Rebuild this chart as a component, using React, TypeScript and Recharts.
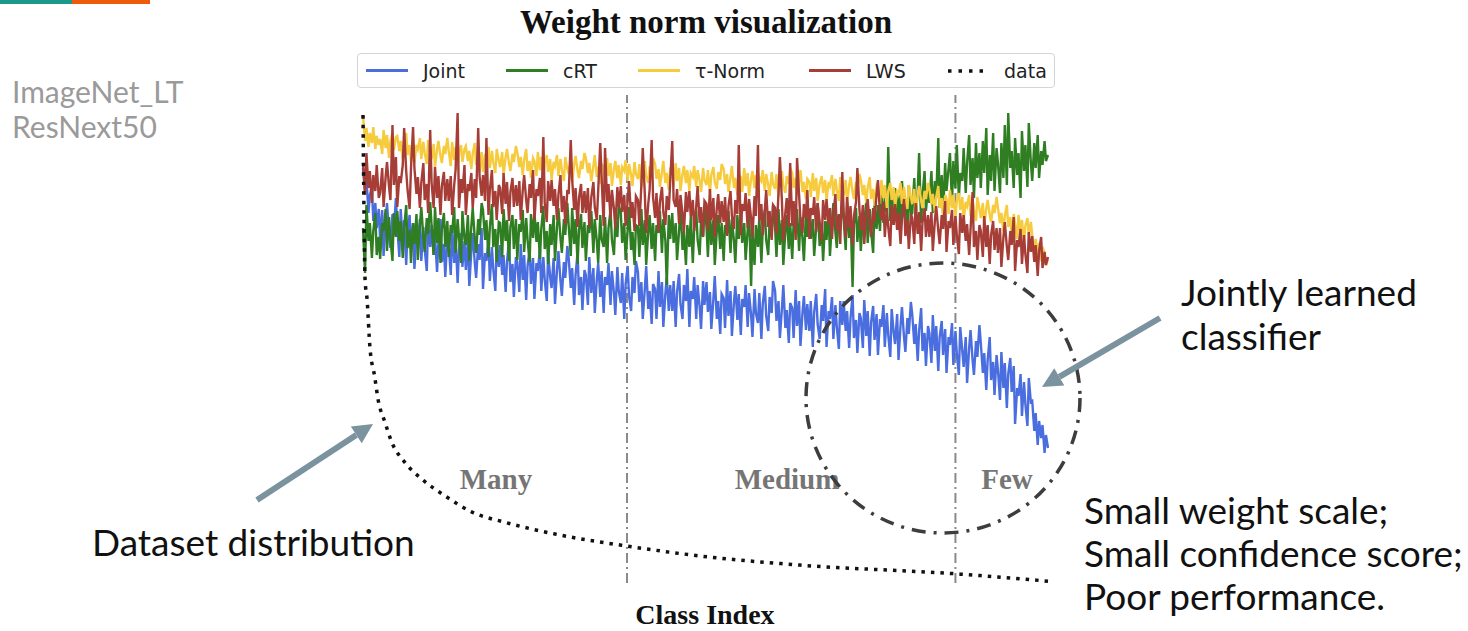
import React from 'react';
import { ComposedChart, Line, XAxis, YAxis, ReferenceLine } from 'recharts';

// ImageNet_LT: 1000 classes sorted by training count, weight norms sampled every ~2.5 classes
const jointNorm = [
  4.15, 3.92, 4.05, 3.70, 3.88, 3.96, 3.62, 3.80, 3.55, 3.74,
  3.43, 3.73, 3.27, 3.62, 3.80, 3.50, 3.35, 3.69, 3.53, 3.85,
  3.56, 3.26, 3.74, 3.38, 3.63, 3.18, 3.52, 3.68, 3.34, 3.60,
  3.14, 3.50, 3.42, 3.64, 3.22, 3.56, 3.34, 3.12, 3.60, 3.36,
  3.58, 3.28, 3.48, 3.11, 3.41, 3.64, 3.21, 3.39, 3.06, 3.46,
  3.38, 3.08, 3.56, 3.20, 3.45, 3.00, 3.34, 3.50, 3.16, 3.42,
  3.13, 3.43, 2.97, 3.32, 3.50, 3.20, 3.05, 3.39, 3.23, 3.55,
  2.94, 3.30, 3.22, 3.44, 3.02, 3.36, 3.14, 2.92, 3.40, 3.16,
  3.38, 3.08, 3.28, 2.91, 3.21, 3.44, 3.01, 3.19, 2.86, 3.26,
  3.21, 2.91, 3.39, 3.03, 3.28, 2.83, 3.17, 3.33, 2.99, 3.25,
  2.84, 3.20, 3.12, 3.34, 2.92, 3.26, 3.04, 2.82, 3.30, 3.06,
  2.95, 3.25, 2.79, 3.14, 3.32, 3.02, 2.87, 3.21, 3.05, 3.37,
  3.25, 2.95, 3.15, 2.78, 3.08, 3.31, 2.88, 3.06, 2.73, 3.13,
  3.08, 2.78, 3.26, 2.90, 3.15, 2.70, 3.04, 3.20, 2.86, 3.12,
  2.70, 3.06, 2.98, 3.20, 2.78, 3.12, 2.90, 2.68, 3.16, 2.92,
  2.80, 3.10, 2.64, 2.99, 3.17, 2.87, 2.72, 3.06, 2.90, 3.22,
  3.11, 2.81, 3.01, 2.64, 2.94, 3.17, 2.74, 2.92, 2.59, 2.99,
  2.94, 2.64, 3.12, 2.76, 3.01, 2.56, 2.90, 3.06, 2.72, 2.98,
  2.72, 3.02, 2.56, 2.91, 3.09, 2.79, 2.64, 2.98, 2.82, 3.14,
  2.56, 2.92, 2.84, 3.06, 2.64, 2.98, 2.76, 2.54, 3.02, 2.78,
  3.01, 2.71, 2.91, 2.54, 2.84, 3.07, 2.64, 2.82, 2.49, 2.89,
  2.85, 2.55, 3.03, 2.67, 2.92, 2.47, 2.81, 2.97, 2.63, 2.89,
  2.48, 2.84, 2.76, 2.98, 2.56, 2.90, 2.68, 2.46, 2.94, 2.70,
  2.60, 2.90, 2.44, 2.79, 2.97, 2.67, 2.52, 2.86, 2.70, 3.02,
  2.92, 2.62, 2.82, 2.45, 2.75, 2.98, 2.55, 2.73, 2.40, 2.80,
  2.75, 2.45, 2.93, 2.57, 2.82, 2.37, 2.71, 2.87, 2.53, 2.79,
  2.52, 2.82, 2.36, 2.71, 2.89, 2.59, 2.44, 2.78, 2.62, 2.94,
  2.36, 2.72, 2.64, 2.86, 2.44, 2.78, 2.56, 2.34, 2.82, 2.58,
  2.82, 2.52, 2.72, 2.35, 2.65, 2.88, 2.45, 2.63, 2.30, 2.70,
  2.65, 2.35, 2.83, 2.47, 2.72, 2.27, 2.61, 2.77, 2.43, 2.69,
  2.28, 2.64, 2.56, 2.78, 2.36, 2.70, 2.48, 2.26, 2.74, 2.50,
  2.39, 2.69, 2.23, 2.58, 2.76, 2.46, 2.31, 2.65, 2.49, 2.81,
  2.69, 2.39, 2.59, 2.22, 2.52, 2.75, 2.32, 2.50, 2.17, 2.57,
  2.50, 2.20, 2.68, 2.32, 2.57, 2.12, 2.46, 2.62, 2.28, 2.54,
  2.10, 2.46, 2.38, 2.60, 2.18, 2.52, 2.30, 2.08, 2.56, 2.32,
  2.16, 2.46, 2.00, 2.35, 2.53, 2.23, 2.08, 2.42, 2.26, 2.58,
  2.40, 2.10, 2.30, 1.93, 2.23, 2.46, 2.03, 2.21, 1.88, 2.28,
  2.13, 1.83, 2.31, 1.95, 2.20, 1.75, 2.09, 2.25, 1.91, 2.17,
  1.59, 1.95, 1.87, 2.09, 1.67, 2.01, 1.79, 1.57, 2.05, 1.81,
  1.82, 1.52, 1.70, 1.38, 1.62, 1.45, 1.58, 1.30, 1.48, 1.35,
];

const crtNorm = [
  3.55, 3.10, 3.78, 3.42, 3.60, 3.25, 3.52, 3.70, 3.28, 3.46,
  3.24, 3.60, 3.52, 3.74, 3.32, 3.66, 3.44, 3.22, 3.70, 3.46,
  3.72, 3.42, 3.62, 3.25, 3.55, 3.78, 3.35, 3.53, 3.20, 3.60,
  3.39, 3.69, 3.23, 3.58, 3.76, 3.46, 3.31, 3.65, 3.49, 3.81,
  3.58, 3.28, 3.76, 3.40, 3.65, 3.20, 3.54, 3.70, 3.36, 3.62,
  3.26, 3.58, 3.50, 3.76, 3.30, 3.64, 3.46, 3.20, 3.72, 3.44,
  3.38, 3.68, 3.22, 3.57, 3.75, 3.45, 3.30, 3.64, 3.48, 3.80,
  3.73, 3.43, 3.63, 3.26, 3.56, 3.79, 3.36, 3.54, 3.21, 3.61,
  3.60, 3.26, 3.74, 3.42, 3.63, 3.22, 3.56, 3.68, 3.34, 3.64,
  3.23, 3.59, 3.51, 3.73, 3.31, 3.65, 3.43, 3.21, 3.69, 3.45,
  3.71, 3.41, 3.61, 3.24, 3.54, 3.77, 3.34, 3.52, 3.19, 3.59,
  3.38, 3.68, 3.22, 3.57, 3.75, 3.45, 3.30, 3.64, 3.48, 3.80,
  3.57, 3.27, 3.75, 3.39, 3.64, 3.19, 3.53, 3.69, 3.35, 3.61,
  3.22, 3.58, 3.50, 3.72, 3.30, 3.64, 3.42, 3.20, 3.68, 3.44,
  3.36, 3.66, 3.20, 3.55, 3.73, 3.43, 3.28, 3.62, 3.46, 3.78,
  3.70, 3.40, 3.60, 3.23, 3.53, 3.76, 3.33, 3.51, 3.18, 3.58,
  3.56, 3.26, 3.74, 3.38, 3.63, 3.18, 3.52, 3.68, 3.34, 3.60,
  3.22, 3.58, 3.50, 3.72, 3.30, 3.64, 3.42, 2.98, 3.68, 3.44,
  3.70, 3.40, 3.60, 3.23, 3.53, 3.76, 3.33, 3.51, 3.18, 3.58,
  3.36, 3.66, 3.20, 3.55, 3.73, 3.43, 3.28, 3.62, 3.46, 3.78,
  3.56, 3.26, 3.74, 3.38, 3.63, 3.18, 3.52, 3.68, 3.34, 3.60,
  3.22, 3.58, 3.50, 3.72, 3.30, 3.64, 3.42, 3.20, 3.68, 3.44,
  3.70, 3.40, 3.60, 3.23, 3.53, 3.76, 2.97, 3.51, 3.18, 3.58,
  3.36, 3.66, 3.20, 3.55, 3.73, 3.43, 3.28, 3.62, 3.46, 3.78,
  3.56, 3.26, 3.74, 3.38, 3.63, 3.18, 3.52, 3.68, 3.34, 3.60,
  3.24, 3.60, 3.52, 3.74, 3.32, 3.66, 3.44, 3.22, 3.70, 3.46,
  3.74, 3.44, 3.64, 3.27, 3.57, 3.80, 3.37, 3.55, 3.22, 3.62,
  3.43, 3.73, 3.27, 3.62, 3.80, 3.50, 3.35, 3.69, 3.53, 3.85,
  3.63, 3.33, 3.81, 3.45, 3.70, 2.96, 3.59, 3.75, 3.41, 3.67,
  3.32, 3.68, 3.60, 3.82, 3.40, 3.74, 3.52, 3.30, 3.78, 3.54,
  3.78, 3.52, 3.90, 3.60, 3.85, 3.70, 4.36, 3.62, 3.88, 3.58,
  3.95, 3.62, 3.88, 3.55, 4.02, 3.72, 3.84, 3.50, 3.98, 3.68,
  3.70, 4.05, 3.65, 3.92, 4.30, 3.60, 3.88, 4.12, 3.72, 3.95,
  3.80, 4.12, 3.70, 4.02, 3.85, 4.45, 3.75, 4.08, 3.68, 4.20,
  3.92, 4.15, 4.30, 3.80, 4.22, 3.95, 4.38, 3.85, 4.10, 4.02,
  4.35, 3.90, 4.20, 4.48, 3.98, 4.25, 3.85, 4.40, 4.05, 4.30,
  3.95, 4.42, 4.10, 4.55, 3.88, 4.28, 4.02, 4.50, 3.92, 4.35,
  4.20, 3.90, 4.40, 4.05, 4.58, 3.98, 4.70, 4.15, 4.32, 3.95,
  4.45, 4.08, 4.30, 3.85, 4.52, 4.12, 4.38, 3.96, 4.60, 4.20,
  4.02, 4.40, 4.15, 4.48, 4.05, 4.32, 4.18, 4.42, 4.22, 4.28,
];

const tauNorm = [
  4.68, 4.42, 4.55, 4.36, 4.50, 4.40, 4.56, 4.34, 4.47, 4.38,
  4.44, 4.29, 4.53, 4.35, 4.48, 4.25, 4.42, 4.50, 4.33, 4.46,
  4.47, 4.32, 4.42, 4.24, 4.39, 4.50, 4.28, 4.38, 4.21, 4.41,
  4.20, 4.38, 4.34, 4.45, 4.24, 4.41, 4.30, 4.19, 4.43, 4.31,
  4.24, 4.39, 4.16, 4.34, 4.42, 4.27, 4.20, 4.37, 4.29, 4.45,
  4.32, 4.17, 4.41, 4.23, 4.36, 4.13, 4.30, 4.38, 4.21, 4.34,
  4.37, 4.22, 4.32, 4.14, 4.29, 4.40, 4.18, 4.28, 4.11, 4.31,
  4.11, 4.29, 4.25, 4.36, 4.15, 4.32, 4.21, 4.10, 4.34, 4.22,
  4.16, 4.31, 4.08, 4.26, 4.34, 4.19, 4.12, 4.29, 4.21, 4.37,
  4.31, 4.16, 4.26, 4.08, 4.23, 4.34, 4.12, 4.22, 4.05, 4.25,
  4.22, 4.07, 4.31, 4.13, 4.26, 4.03, 4.20, 4.28, 4.11, 4.24,
  4.03, 4.21, 4.17, 4.28, 4.07, 4.24, 4.13, 4.02, 4.26, 4.14,
  4.09, 4.24, 4.01, 4.19, 4.27, 4.12, 4.05, 4.22, 4.14, 4.30,
  4.25, 4.10, 4.20, 4.02, 4.17, 4.28, 4.06, 4.16, 3.99, 4.19,
  4.16, 4.01, 4.25, 4.07, 4.20, 3.97, 4.14, 4.22, 4.05, 4.18,
  3.98, 4.16, 4.12, 4.23, 4.02, 4.19, 4.08, 3.97, 4.21, 4.09,
  4.04, 4.19, 3.96, 4.14, 4.22, 4.07, 4.00, 4.17, 4.09, 4.25,
  4.19, 4.04, 4.14, 3.96, 4.11, 4.22, 4.00, 4.10, 3.93, 4.13,
  4.11, 3.96, 4.20, 4.02, 4.15, 3.92, 4.09, 4.17, 4.00, 4.13,
  3.92, 4.10, 4.06, 4.17, 3.96, 4.13, 4.02, 3.91, 4.15, 4.03,
  3.98, 4.13, 3.90, 4.08, 4.16, 4.01, 3.94, 4.11, 4.03, 4.19,
  4.14, 3.99, 4.09, 3.91, 4.06, 4.17, 3.95, 4.05, 3.88, 4.08,
  4.06, 3.91, 4.15, 3.97, 4.10, 3.87, 4.04, 4.12, 3.95, 4.08,
  3.88, 4.06, 4.02, 4.13, 3.92, 4.09, 3.98, 3.87, 4.11, 3.99,
  3.94, 4.09, 3.86, 4.04, 4.12, 3.97, 3.90, 4.07, 3.99, 4.15,
  4.10, 3.95, 4.05, 3.87, 4.02, 4.13, 3.91, 4.01, 3.84, 4.04,
  4.01, 3.86, 4.10, 3.92, 4.05, 3.82, 3.99, 4.07, 3.90, 4.03,
  3.83, 4.01, 3.97, 4.08, 3.87, 4.04, 3.93, 3.82, 4.06, 3.94,
  3.88, 4.03, 3.80, 3.98, 4.06, 3.91, 3.84, 4.01, 3.93, 4.09,
  4.03, 3.88, 3.98, 3.80, 3.95, 4.06, 3.84, 3.94, 3.77, 3.97,
  3.94, 3.79, 4.03, 3.85, 3.98, 3.75, 3.92, 4.00, 3.83, 3.96,
  3.75, 3.93, 3.89, 4.00, 3.79, 3.96, 3.85, 3.74, 3.98, 3.86,
  3.79, 3.94, 3.71, 3.89, 3.97, 3.82, 3.75, 3.92, 3.84, 4.00,
  3.94, 3.79, 3.89, 3.71, 3.86, 3.97, 3.75, 3.85, 3.68, 3.88,
  3.84, 3.69, 3.93, 3.75, 3.88, 3.65, 3.82, 3.90, 3.73, 3.86,
  3.63, 3.81, 3.77, 3.88, 3.67, 3.84, 3.73, 3.62, 3.86, 3.74,
  3.65, 3.80, 3.57, 3.75, 3.83, 3.68, 3.61, 3.78, 3.70, 3.86,
  3.75, 3.60, 3.70, 3.52, 3.67, 3.78, 3.56, 3.66, 3.49, 3.69,
  3.59, 3.44, 3.68, 3.50, 3.63, 3.40, 3.57, 3.65, 3.48, 3.61,
  3.48, 3.32, 3.44, 3.28, 3.40, 3.22, 3.36, 3.30, 3.18, 3.24,
];

const lwsNorm = [
  4.20, 3.88, 4.30, 3.95, 4.12, 3.80, 4.08, 3.92, 4.18, 3.85,
  3.90, 4.15, 3.76, 4.06, 4.21, 3.96, 3.83, 4.58, 3.98, 4.26,
  3.76, 4.07, 4.00, 4.18, 4.55, 4.12, 3.93, 3.74, 4.15, 4.56,
  4.15, 3.89, 4.06, 3.75, 4.00, 4.20, 3.83, 3.99, 3.70, 4.53,
  4.01, 3.75, 4.16, 3.85, 4.07, 3.68, 3.97, 4.11, 3.82, 4.04,
  3.82, 4.07, 3.68, 3.98, 4.13, 4.70, 3.75, 4.04, 3.90, 4.18,
  3.68, 3.99, 3.92, 4.10, 3.75, 4.04, 3.85, 4.55, 4.07, 3.87,
  4.08, 3.82, 4.45, 3.68, 3.93, 4.13, 3.76, 3.92, 3.63, 3.98,
  3.95, 3.69, 4.10, 3.79, 4.01, 3.62, 3.91, 4.05, 3.76, 3.98,
  3.77, 4.02, 3.63, 3.93, 4.08, 3.83, 3.70, 3.99, 3.85, 4.13,
  3.63, 3.94, 3.87, 4.05, 3.70, 4.46, 3.80, 3.61, 4.02, 3.82,
  4.03, 3.77, 3.94, 3.63, 3.88, 4.08, 3.71, 3.87, 3.58, 3.93,
  3.89, 4.43, 4.04, 3.73, 3.95, 3.56, 3.85, 3.99, 3.70, 3.92,
  3.70, 3.95, 3.56, 3.86, 4.01, 3.76, 3.63, 3.92, 4.40, 4.06,
  3.57, 4.35, 3.81, 3.99, 3.64, 3.93, 3.74, 3.55, 3.96, 3.76,
  3.97, 3.71, 3.88, 3.57, 3.82, 4.02, 3.65, 3.81, 3.52, 3.87,
  3.83, 3.57, 3.98, 4.35, 3.89, 3.50, 3.79, 3.93, 4.43, 3.86,
  3.65, 3.90, 3.51, 3.81, 3.96, 3.71, 3.58, 3.87, 3.73, 4.01,
  4.42, 3.83, 3.76, 3.94, 3.59, 3.88, 3.69, 3.50, 3.91, 3.71,
  3.92, 3.66, 3.83, 3.52, 3.77, 3.97, 3.60, 3.76, 3.47, 3.82,
  3.79, 3.53, 3.94, 3.63, 3.85, 3.46, 3.75, 3.89, 3.60, 3.82,
  3.61, 3.86, 3.47, 3.77, 3.92, 3.67, 3.54, 3.83, 3.69, 4.38,
  3.48, 3.79, 3.72, 3.90, 3.55, 3.84, 3.65, 3.46, 3.87, 3.67,
  4.38, 3.62, 3.79, 3.48, 3.73, 3.93, 3.56, 3.72, 3.43, 3.78,
  3.75, 3.49, 3.90, 4.26, 3.81, 3.42, 3.71, 3.85, 3.56, 4.20,
  3.57, 3.82, 3.43, 4.25, 3.88, 3.63, 3.50, 3.79, 3.65, 3.93,
  3.44, 3.75, 3.68, 3.86, 3.51, 3.80, 3.61, 3.42, 3.83, 3.63,
  3.84, 3.58, 3.75, 3.44, 3.69, 3.89, 3.52, 3.68, 3.39, 4.11,
  3.71, 3.45, 3.86, 3.55, 3.77, 3.38, 3.67, 3.81, 4.15, 3.74,
  3.53, 3.78, 3.39, 3.69, 3.84, 3.59, 3.46, 3.75, 3.61, 3.89,
  4.03, 3.70, 3.63, 3.81, 3.46, 3.75, 3.56, 3.37, 3.78, 3.58,
  3.79, 3.53, 3.70, 3.39, 3.64, 3.84, 3.47, 3.63, 3.34, 3.69,
  3.65, 3.39, 3.80, 3.49, 3.71, 3.32, 3.61, 3.75, 3.46, 3.68,
  3.46, 3.71, 3.32, 3.62, 3.77, 3.52, 3.39, 3.68, 3.54, 3.82,
  3.31, 3.62, 3.55, 3.73, 3.38, 3.67, 3.48, 3.29, 3.70, 3.50,
  3.68, 3.42, 3.59, 3.28, 3.53, 3.91, 3.36, 3.52, 3.23, 3.58,
  3.52, 3.26, 3.67, 3.36, 3.58, 3.19, 3.48, 3.62, 3.33, 3.55,
  3.30, 3.55, 3.16, 3.46, 3.61, 3.36, 3.23, 3.52, 3.38, 3.66,
  3.12, 3.43, 3.36, 3.54, 3.19, 3.48, 3.29, 3.10, 3.51, 3.31,
  3.47, 3.21, 3.38, 3.07, 3.32, 3.46, 3.15, 3.31, 3.18, 3.26,
];

// training images per class (dataset distribution)
const distClasses = [0, 1, 3, 6, 10, 17, 22, 32, 42, 61, 86, 120, 159, 207, 280, 385, 491, 637, 866, 999];
const distCounts = [1280, 1090, 830, 775, 647, 565, 502, 440, 385, 330, 284, 238, 194, 166, 134, 101, 74, 49, 25, 5];

const SPLITS = [385, 864]; // many | medium | few
const splitLabels = ['Many', 'Medium', 'Few'];

const series = [
  { key: 'joint', name: 'Joint', color: '#4a6edf', values: jointNorm },
  { key: 'crt', name: 'cRT', color: '#2f7e22', values: crtNorm },
  { key: 'tau', name: 'τ-Norm', color: '#f6cb3e', values: tauNorm },
  { key: 'lws', name: 'LWS', color: '#a63d37', values: lwsNorm },
];
const legendLeft = [8, 148, 280, 451]; // data item at 589

// each series gets its own rows so class indices follow its own sample count
const rowsFor = (values: number[]) =>
  values.map((v, i) => ({ cls: Math.round((i * 999) / (values.length - 1)), v }));
const distRows = distClasses.map((cls, i) => ({ cls, count: distCounts[i] }));

const W = 1468;
const H = 631;
const lato = 'Lato, "Noto Sans", sans-serif';
const serif = '"Liberation Serif", "Times New Roman", serif';

function Arrow({ x1, y1, x2, y2 }: { x1: number; y1: number; x2: number; y2: number }) {
  const len = Math.hypot(x2 - x1, y2 - y1);
  const ux = (x2 - x1) / len;
  const uy = (y2 - y1) / len;
  const bx = x2 - ux * 20;
  const by = y2 - uy * 20;
  const px = -uy * 10;
  const py = ux * 10;
  return (
    <g fill="#7a939e" stroke="none">
      <line x1={x1} y1={y1} x2={bx} y2={by} stroke="#7a939e" strokeWidth={6} />
      <polygon points={`${x2},${y2} ${bx + px},${by + py} ${bx - px},${by - py}`} />
    </g>
  );
}

const itemStyle: React.CSSProperties = {
  position: 'absolute',
  top: 0,
  height: 33,
  display: 'flex',
  alignItems: 'center',
  gap: 15,
};

const LegendBox = () => (
  <div
    style={{
      position: 'absolute',
      left: 357,
      top: 53,
      width: 698,
      height: 35,
      border: '1px solid #d4d4d4',
      borderRadius: 4,
      boxSizing: 'border-box',
      fontFamily: '"DejaVu Sans", sans-serif',
      fontSize: 19,
      color: '#222',
      background: '#fff',
    }}
  >
    {series.map((s, i) => (
      <div key={s.key} style={{ ...itemStyle, left: legendLeft[i] }}>
        <div style={{ width: 42, height: 3, background: s.color }} />
        <span>{s.name}</span>
      </div>
    ))}
    <div style={{ ...itemStyle, left: 589 }}>
      <svg width={42} height={6}>
        <line x1={1} y1={3} x2={42} y2={3} stroke="#111" strokeWidth={3.5} strokeDasharray="3.5 7" />
      </svg>
      <span>data</span>
    </div>
  </div>
);

export default function App() {
  return (
    <div style={{ position: 'absolute', left: 0, top: 0, width: W, height: H, background: '#fff', overflow: 'hidden' }}>
      <ComposedChart width={W} height={H} margin={{ top: 95, right: 420, bottom: 48, left: 363 }}>
        <XAxis type="number" dataKey="cls" domain={[0, 999]} hide allowDuplicatedCategory={false} />
        <YAxis yAxisId="w" domain={[0, 4.88]} hide />
        <YAxis yAxisId="n" domain={[0, 1335]} hide />
        {SPLITS.map((s) => (
          <ReferenceLine key={s} x={s} yAxisId="w" stroke="#8a8a8a" strokeWidth={2} strokeDasharray="10 4 2 4" />
        ))}
        {series.map((s) => (
          <Line
            key={s.key}
            yAxisId="w"
            data={rowsFor(s.values)}
            dataKey="v"
            name={s.name}
            type="linear"
            stroke={s.color}
            strokeWidth={2.4}
            dot={false}
            isAnimationActive={false}
          />
        ))}
        <Line
          yAxisId="n"
          data={distRows}
          dataKey="count"
          name="data"
          type="monotone"
          stroke="#111"
          strokeWidth={3.5}
          strokeDasharray="3.5 6"
          dot={false}
          isAnimationActive={false}
        />
      </ComposedChart>

      <LegendBox />

      <svg width={W} height={H} style={{ position: 'absolute', left: 0, top: 0, pointerEvents: 'none' }}>
        <rect x={0} y={0} width={72} height={4} fill="#1b9a89" />
        <rect x={72} y={0} width={78} height={4} fill="#ee5c0a" />

        <text x={706} y={33} textAnchor="middle" fontFamily={serif} fontWeight="bold" fontSize={33} fill="#111">
          Weight norm visualization
        </text>

        <text x={12} y={103} fontFamily={lato} fontSize={30} fill="#9a9a9a">ImageNet_LT</text>
        <text x={12} y={138} fontFamily={lato} fontSize={30} fill="#9a9a9a">ResNext50</text>

        <text x={496} y={489} textAnchor="middle" fontFamily={serif} fontWeight="bold" fontSize={29} fill="#757575">
          {splitLabels[0]}
        </text>
        <text x={787} y={489} textAnchor="middle" fontFamily={serif} fontWeight="bold" fontSize={29} fill="#757575">
          {splitLabels[1]}
        </text>
        <text x={1007} y={489} textAnchor="middle" fontFamily={serif} fontWeight="bold" fontSize={29} fill="#757575">
          {splitLabels[2]}
        </text>

        <text x={705} y={624} textAnchor="middle" fontFamily={serif} fontWeight="bold" fontSize={28} fill="#111">
          Class Index
        </text>

        <ellipse cx={943} cy={398} rx={137} ry={135} fill="none" stroke="#3d3d3d" strokeWidth={3.5} strokeDasharray="14 8 3 8" />

        <Arrow x1={257} y1={500} x2={373} y2={424} />
        <Arrow x1={1160} y1={318} x2={1042} y2={387} />

        <text x={92} y={556} fontFamily={lato} fontSize={37} fill="#111">Dataset distribution</text>
        <text x={1181} y={306} fontFamily={lato} fontSize={37} fill="#111">Jointly learned</text>
        <text x={1181} y={350} fontFamily={lato} fontSize={37} fill="#111">classifier</text>
        <text x={1084} y={524} fontFamily={lato} fontSize={37} fill="#111">Small weight scale;</text>
        <text x={1084} y={567} fontFamily={lato} fontSize={37} fill="#111">Small confidence score;</text>
        <text x={1084} y={610} fontFamily={lato} fontSize={37} fill="#111">Poor performance.</text>
      </svg>
    </div>
  );
}
